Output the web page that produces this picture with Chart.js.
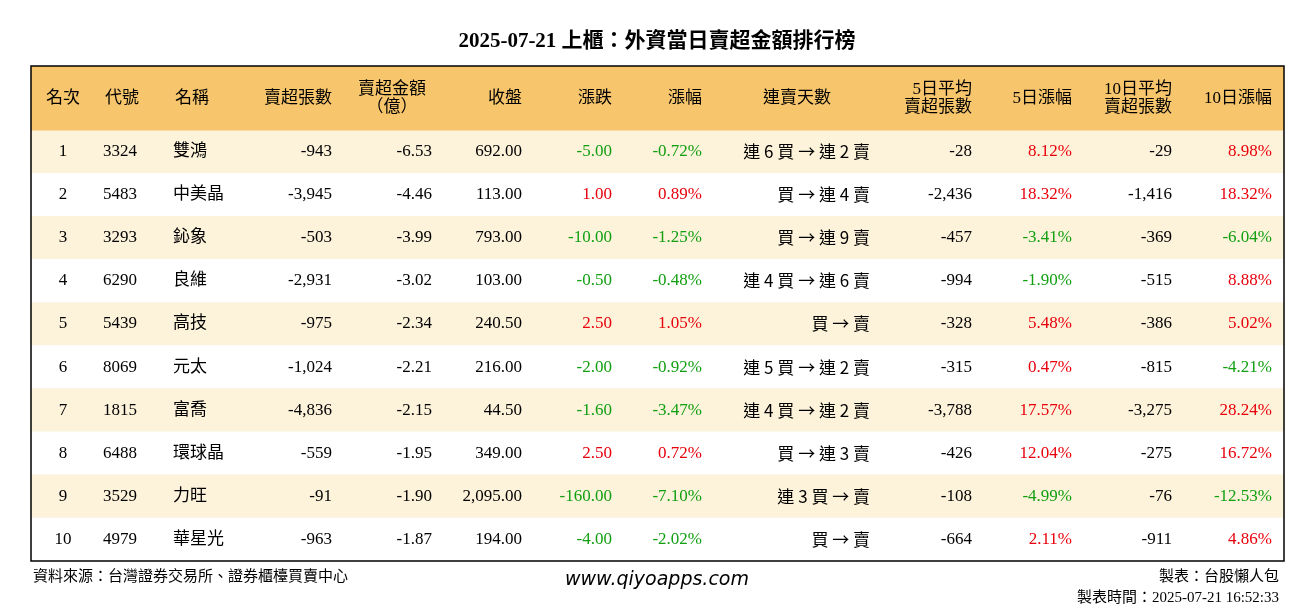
<!DOCTYPE html>
<html>
<head>
<meta charset="utf-8">
<script src="https://cdn.jsdelivr.net/npm/chart.js@4.4.1/dist/chart.umd.min.js"></script>
<style>
  html, body { margin: 0; padding: 0; background: #fff; }
  #wrap { width: 1314px; height: 612px; }
</style>
</head>
<body>
<div id="wrap"><canvas id="table"></canvas></div>
<script>
// 表格資料
const ranks = [1, 2, 3, 4, 5, 6, 7, 8, 9, 10];
const codes = ['3324', '5483', '3293', '6290', '5439', '8069', '1815', '6488', '3529', '4979'];
const names = ['雙鴻', '中美晶', '鈊象', '良維', '高技', '元太', '富喬', '環球晶', '力旺', '華星光'];
const netShares = [-943, -3945, -503, -2931, -975, -1024, -4836, -559, -91, -963];
const netAmount = [-6.53, -4.46, -3.99, -3.02, -2.34, -2.21, -2.15, -1.95, -1.90, -1.87];
const closes = [692.00, 113.00, 793.00, 103.00, 240.50, 216.00, 44.50, 349.00, 2095.00, 194.00];
const changes = [-5.00, 1.00, -10.00, -0.50, 2.50, -2.00, -1.60, 2.50, -160.00, -4.00];
const changePct = [-0.72, 0.89, -1.25, -0.48, 1.05, -0.92, -3.47, 0.72, -7.10, -2.02];
const streaks = ['連 6 買 → 連 2 賣', '買 → 連 4 賣', '買 → 連 9 賣', '連 4 買 → 連 6 賣', '買 → 賣',
  '連 5 買 → 連 2 賣', '連 4 買 → 連 2 賣', '買 → 連 3 賣', '連 3 買 → 賣', '買 → 賣'];
const avg5 = [-28, -2436, -457, -994, -328, -315, -3788, -426, -108, -664];
const pct5 = [8.12, 18.32, -3.41, -1.90, 5.48, 0.47, 17.57, 12.04, -4.99, 2.11];
const avg10 = [-29, -1416, -369, -515, -386, -815, -3275, -275, -76, -911];
const pct10 = [8.98, 18.32, -6.04, 8.88, 5.02, -4.21, 28.24, 16.72, -12.53, 4.86];

const title = '2025-07-21 上櫃：外資當日賣超金額排行榜';

const FONT = '"Liberation Serif", "Noto Sans CJK TC", serif';
const CJK = '"Noto Sans CJK TC", serif';
const RED = '#e8000b';
const GREEN = '#12a012';
const HEADER_H = 64, ROW_H = 43;

const int = v => v.toLocaleString('en-US');
const fix2 = v => v.toLocaleString('en-US', { minimumFractionDigits: 2, maximumFractionDigits: 2 });
const pct = v => v.toFixed(2) + '%';
const sign = v => v > 0 ? RED : (v < 0 ? GREEN : '#000');

// 欄位：x 為表格內位置
const columns = [
  { head: ['名次'], hx: 32, ha: 'center', x: 32, a: 'center', val: i => String(ranks[i]) },
  { head: ['代號'], hx: 91, ha: 'center', x: 72, a: 'left', val: i => codes[i] },
  { head: ['名稱'], hx: 161, ha: 'center', x: 142, a: 'left', val: i => names[i] },
  { head: ['賣超張數'], hx: 301, ha: 'right', x: 301, a: 'right', val: i => int(netShares[i]) },
  { head: ['賣超金額', '（億）'], hx: 361, ha: 'center', x: 401, a: 'right', val: i => fix2(netAmount[i]) },
  { head: ['收盤'], hx: 491, ha: 'right', x: 491, a: 'right', val: i => fix2(closes[i]) },
  { head: ['漲跌'], hx: 581, ha: 'right', x: 581, a: 'right', val: i => fix2(changes[i]), color: i => sign(changes[i]) },
  { head: ['漲幅'], hx: 671, ha: 'right', x: 671, a: 'right', val: i => pct(changePct[i]), color: i => sign(changePct[i]) },
  { head: ['連賣天數'], hx: 766, ha: 'center', x: 839, a: 'right', val: i => streaks[i], font: CJK },
  { head: ['5日平均', '賣超張數'], hx: 941, ha: 'right', x: 941, a: 'right', val: i => int(avg5[i]) },
  { head: ['5日漲幅'], hx: 1041, ha: 'right', x: 1041, a: 'right', val: i => pct(pct5[i]), color: i => sign(pct5[i]) },
  { head: ['10日平均', '賣超張數'], hx: 1141, ha: 'right', x: 1141, a: 'right', val: i => int(avg10[i]) },
  { head: ['10日漲幅'], hx: 1241, ha: 'right', x: 1241, a: 'right', val: i => pct(pct10[i]), color: i => sign(pct10[i]) },
];

const rowCenter = i => HEADER_H + ROW_H * i + ROW_H / 2;

const tableText = {
  id: 'tableText',
  afterDatasetsDraw(chart) {
    const { ctx, chartArea: ca, scales: { x, y } } = chart;
    ctx.save();
    ctx.textBaseline = 'middle';
    // 表頭
    ctx.fillStyle = '#000';
    ctx.font = '17px ' + FONT;
    columns.forEach(c => {
      ctx.textAlign = c.ha;
      const px = x.getPixelForValue(c.hx);
      if (c.head.length === 1) {
        ctx.fillText(c.head[0], px, y.getPixelForValue(HEADER_H / 2));
      } else {
        ctx.fillText(c.head[0], px, y.getPixelForValue(HEADER_H / 2 - 9));
        ctx.fillText(c.head[1], px, y.getPixelForValue(HEADER_H / 2 + 9));
      }
    });
    // 資料列
    ranks.forEach((r, i) => {
      const py = y.getPixelForValue(rowCenter(i));
      columns.forEach(c => {
        ctx.font = '17px ' + (c.font || FONT);
        ctx.textAlign = c.a;
        ctx.fillStyle = c.color ? c.color(i) : '#000';
        ctx.fillText(c.val(i), x.getPixelForValue(c.x), py);
      });
    });
    // 外框
    ctx.strokeStyle = '#000';
    ctx.lineWidth = 1.5;
    ctx.strokeRect(ca.left, ca.top, ca.right - ca.left, ca.bottom - ca.top);
    // 標題與頁尾
    ctx.fillStyle = '#000';
    ctx.textAlign = 'center';
    ctx.font = '600 21px ' + FONT;
    ctx.fillText(title, 657, 42);
    ctx.font = '15px ' + FONT;
    ctx.textAlign = 'left';
    ctx.fillText('資料來源：台灣證券交易所、證券櫃檯買賣中心', 33, 577);
    ctx.textAlign = 'right';
    ctx.fillText('製表：台股懶人包', 1279, 577);
    ctx.fillText('製表時間：2025-07-21 16:52:33', 1279, 598);
    ctx.textAlign = 'center';
    ctx.font = 'italic 19px "DejaVu Sans", sans-serif';
    ctx.fillText('www.qiyoapps.com', 657, 580);
    ctx.restore();
  }
};

new Chart(document.getElementById('table'), {
  type: 'bar',
  data: {
    datasets: [
      {
        data: [{ x: [0, 1253], y: HEADER_H / 2 }],
        backgroundColor: '#f6c56c',
        barThickness: HEADER_H,
        grouped: false,
      },
      {
        data: ranks.map((r, i) => ({ x: [0, 1253], y: rowCenter(i) })),
        backgroundColor: ranks.map((r, i) => i % 2 === 0 ? '#fdf2da' : '#ffffff'),
        barThickness: ROW_H,
        grouped: false,
      }
    ]
  },
  options: {
    indexAxis: 'y',
    responsive: true,
    maintainAspectRatio: false,
    animation: false,
    layout: { padding: { left: 31, right: 30, top: 66, bottom: 51 } },
    scales: {
      x: { type: 'linear', min: 0, max: 1253, display: false, offset: false },
      y: { type: 'linear', min: 0, max: HEADER_H + ROW_H * 10, reverse: true, display: false, offset: false }
    },
    plugins: {
      legend: { display: false },
      tooltip: { enabled: false }
    }
  },
  plugins: [tableText]
});
</script>
</body>
</html>
